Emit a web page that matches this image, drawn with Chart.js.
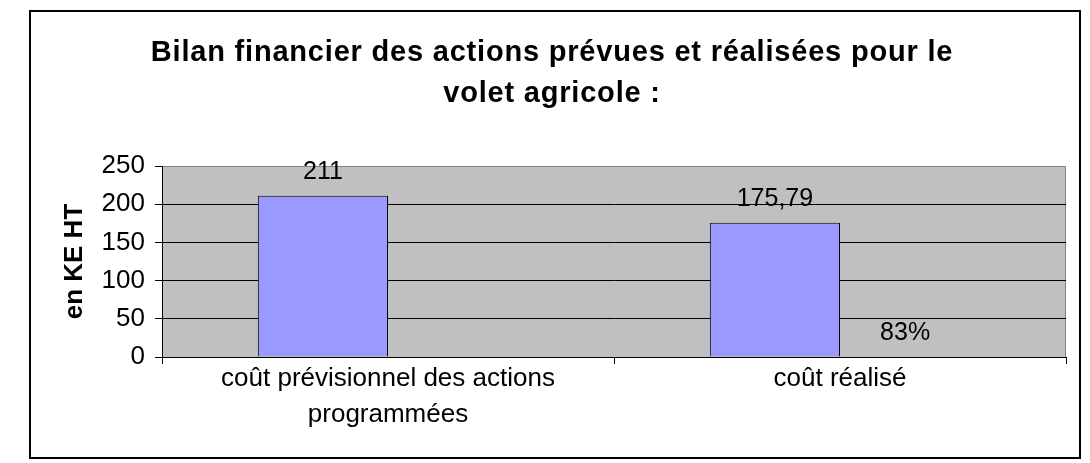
<!DOCTYPE html>
<html>
<head>
<meta charset="utf-8">
<script src="https://cdn.jsdelivr.net/npm/chart.js@4"></script>
<style>
  body { margin: 0; background: #fff; }
  #wrap { width: 1090px; height: 463px; }
</style>
</head>
<body>
<div id="wrap"><canvas id="myChart"></canvas></div>
<script>
// donnees du graphique
var titleLines = ["Bilan financier des actions prévues et réalisées pour le", "volet agricole :"];
var categories = [["coût prévisionnel des actions", "programmées"], "coût réalisé"];
var couts = [211, 175.79];
var coutsLabels = ["211", "175,79"];
var taux = [null, 0];
var tauxLabels = ["", "83%"];
var yTicks = [0, 50, 100, 150, 200, 250];
var yTitle = "en KE HT";

var FONT = "'Liberation Sans', Arial, sans-serif";

// fond gris, cadre et titre
const cadre = {
  id: "cadre",
  beforeDraw: function (chart) {
    var ctx = chart.ctx;
    var a = chart.chartArea;
    ctx.save();
    ctx.fillStyle = "#fff";
    ctx.fillRect(0, 0, chart.width, chart.height);
    ctx.lineWidth = 2;
    ctx.strokeStyle = "#000";
    ctx.strokeRect(30, 11, 1050, 447);
    ctx.fillStyle = "#C0C0C0";
    ctx.fillRect(a.left, a.top, a.right - a.left, a.bottom - a.top);
    ctx.lineWidth = 1;
    ctx.strokeStyle = "#808080";
    ctx.beginPath();
    ctx.moveTo(a.left, a.top + 0.5);
    ctx.lineTo(a.right - 0.5, a.top + 0.5);
    ctx.lineTo(a.right - 0.5, a.bottom);
    ctx.stroke();

    // titre
    ctx.fillStyle = "#000";
    ctx.font = "bold 29px " + FONT;
    ctx.letterSpacing = "0.8px";
    ctx.textAlign = "center";
    ctx.textBaseline = "middle";
    ctx.fillText(titleLines[0], 552, 53);
    ctx.fillText(titleLines[1], 552, 94);
    ctx.restore();
  },
  afterDatasetsDraw: function (chart) {
    var ctx = chart.ctx;
    var lbls = [coutsLabels, tauxLabels];
    ctx.save();
    ctx.fillStyle = "#000";
    ctx.font = "25px " + FONT;
    ctx.textAlign = "center";
    ctx.textBaseline = "middle";
    chart.data.datasets.forEach(function (ds, i) {
      chart.getDatasetMeta(i).data.forEach(function (bar, j) {
        var t = lbls[i][j];
        if (!t) return;
        ctx.fillText(t, bar.x, bar.y - 24);
      });
    });
    ctx.restore();
  },
};

const ctx = document.getElementById("myChart");

new Chart(ctx, {
  type: "bar",
  data: {
    labels: categories,
    datasets: [
      {
        data: couts,
        backgroundColor: "#9999FF",
        borderColor: "#000",
        borderWidth: 1,
      },
      {
        data: taux,
        backgroundColor: "rgba(0,0,0,0)",
        borderWidth: 0,
      },
    ],
  },
  options: {
    responsive: true,
    maintainAspectRatio: false,
    animation: false,
    events: [],
    color: "#000",
    layout: { padding: { top: 166, left: 37, right: 24, bottom: 0 } },
    datasets: { bar: { barPercentage: 1, categoryPercentage: 0.576 } },
    plugins: {
      legend: { display: false },
      tooltip: { enabled: false },
      title: { display: false },
    },
    scales: {
      x: {
        grid: { drawOnChartArea: false, tickLength: 7, color: "#000" },
        border: { color: "#000", width: 1 },
        ticks: {
          color: "#000",
          padding: -3,
          maxRotation: 0,
          autoSkip: false,
          font: { family: FONT, size: 26, lineHeight: 1.38 },
        },
        afterFit: function (scale) {
          scale.height = 106;
        },
      },
      y: {
        min: 0,
        max: 250,
        afterBuildTicks: function (scale) {
          scale.ticks = yTicks.map(function (v) { return { value: v }; });
        },
        grid: {
          color: function (c) { return c.tick && c.tick.value === 250 ? "#808080" : "#000"; },
          tickColor: "#000",
          tickLength: 7,
        },
        border: { color: "#000", width: 1 },
        ticks: {
          color: "#000",
          padding: 10,
          font: { family: FONT, size: 26 },
        },
        title: {
          display: true,
          text: yTitle,
          color: "#000",
          font: { family: FONT, size: 26, weight: "bold", lineHeight: 1.2 },
          padding: { top: 22, bottom: 0 },
        },
        afterFit: function (scale) {
          scale.width = 125;
        },
      },
    },
  },
  plugins: [cadre],
});
</script>
</body>
</html>
